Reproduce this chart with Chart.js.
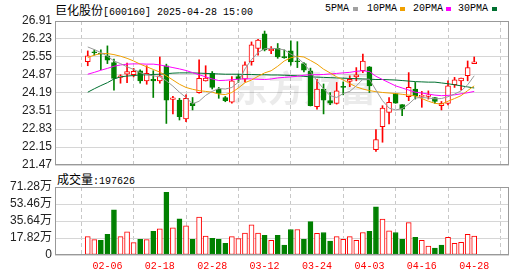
<!DOCTYPE html>
<html>
<head>
<meta charset="utf-8">
<script src="https://cdn.jsdelivr.net/npm/chart.js@4"></script>
<style>
  body { margin: 0; background: #fff; width: 530px; height: 276px; overflow: hidden; position: relative; }
  canvas { position: absolute; left: 0; }
  #main { top: 0; }
  #vol { top: 168px; }
  .txt { position: absolute; white-space: nowrap; color: #000; font: 10px "Liberation Mono", monospace; line-height: 14px; }
  .cjk { font: 12px "Noto Sans CJK SC", sans-serif; }
  .sw { position: absolute; width: 5px; height: 4px; top: 7px; }
</style>
</head>
<body>
<div class="txt" style="left:55px;top:1px"><span class="cjk">巨化股份</span>[600160] 2025-04-28 15:00</div>
<div class="txt" style="left:325px;top:2px">5PMA</div><div class="sw" style="left:353px;background:#a0a0a0"></div>
<div class="txt" style="left:367px;top:2px">10PMA</div><div class="sw" style="left:400px;background:#f0a000"></div>
<div class="txt" style="left:413px;top:2px">20PMA</div><div class="sw" style="left:446px;background:#ff00ff"></div>
<div class="txt" style="left:458px;top:2px">30PMA</div><div class="sw" style="left:492px;background:#007030"></div>
<div class="txt" style="left:57px;top:170px"><span class="cjk">成交量</span>:197626</div>
<canvas id="main" width="530" height="180"></canvas>
<canvas id="vol" width="530" height="108"></canvas>
<script>
// 交易日
const dates = ['01-24','01-27','02-05','02-06','02-07','02-10','02-11','02-12','02-13','02-14',
  '02-17','02-18','02-19','02-20','02-21','02-24','02-25','02-26','02-27','02-28',
  '03-03','03-04','03-05','03-06','03-07','03-10','03-11','03-12','03-13','03-14',
  '03-17','03-18','03-19','03-20','03-21','03-24','03-25','03-26','03-27','03-28',
  '03-31','04-01','04-02','04-03','04-07','04-08','04-09','04-10','04-11','04-14',
  '04-15','04-16','04-17','04-18','04-21','04-22','04-23','04-24','04-25','04-28'];

// K线 开/高/低/收
const openP = [25.37,25.74,25.70,25.59,25.34,24.78,24.90,24.88,25.03,24.65,
  24.71,24.65,25.22,23.95,23.92,23.21,23.81,24.20,24.65,24.93,
  24.34,24.02,23.84,24.81,24.71,25.37,25.87,26.43,25.79,25.88,
  25.57,25.78,25.40,25.30,25.03,23.67,24.34,23.90,23.80,24.44,
  24.63,24.80,25.03,25.18,22.05,22.92,23.46,24.17,23.75,24.05,
  24.34,24.06,24.06,24.02,23.71,23.80,24.50,24.65,24.84,25.30];
const highP = [25.78,25.82,25.82,25.97,25.47,24.88,25.32,25.12,25.07,25.22,
  25.03,25.55,25.28,24.06,23.99,24.12,24.02,25.44,25.22,25.00,
  24.40,24.06,24.81,24.90,25.37,26.12,26.22,26.53,25.94,26.06,
  25.82,26.16,26.13,25.34,25.13,24.71,24.53,24.21,24.59,24.61,
  24.84,25.15,25.66,25.19,22.81,23.71,24.02,24.18,23.75,24.96,
  24.59,24.25,24.27,24.02,23.87,24.65,24.78,24.75,25.40,25.55];
const lowP = [25.22,25.62,25.07,25.30,24.30,24.56,24.58,24.80,24.56,24.52,
  24.02,24.56,23.04,23.40,23.17,23.11,23.55,24.18,24.64,24.34,
  23.99,23.86,23.81,24.59,24.61,25.24,25.62,25.78,25.68,25.50,
  25.50,25.24,25.15,24.99,23.70,23.58,23.40,23.75,23.77,24.12,
  24.43,24.65,24.96,24.21,21.98,22.33,23.02,23.80,23.33,23.90,
  23.96,23.65,23.96,23.80,23.55,23.74,24.40,24.30,24.65,25.30];
const closeP = [25.59,25.71,25.66,25.43,24.74,24.84,25.00,25.01,24.65,24.93,
  24.65,24.84,23.92,24.01,23.30,23.99,23.71,24.74,24.75,24.40,
  24.17,23.90,24.65,24.71,25.25,26.01,26.19,25.82,25.84,25.55,
  25.52,25.36,25.37,25.05,23.71,24.34,23.92,23.81,24.27,24.40,
  24.71,24.88,25.40,24.46,22.43,23.62,23.84,23.81,23.58,24.40,
  24.09,24.10,24.12,23.87,23.80,24.46,24.69,24.75,25.15,25.37];

// 均线
const ma5 = [25.93,25.83,25.72,25.58,25.40,25.30,25.18,25.08,24.96,24.88,
  24.84,24.80,24.65,24.45,24.22,24.02,23.78,23.88,24.10,24.25,
  24.36,24.34,24.40,24.60,25.10,25.45,25.72,25.86,25.88,25.86,
  25.82,25.66,25.53,25.30,25.00,24.65,24.35,24.09,24.02,24.17,
  24.25,24.46,24.71,24.71,24.30,23.90,23.62,23.55,23.60,23.77,
  24.00,24.02,24.00,23.97,23.98,24.05,24.15,24.27,24.50,24.84];
const ma10 = [25.53,25.62,25.68,25.68,25.64,25.58,25.50,25.40,25.28,25.18,
  25.08,24.98,24.84,24.68,24.52,24.40,24.33,24.28,24.25,24.22,
  24.15,24.13,24.21,24.38,24.58,24.68,24.82,24.95,25.03,25.20,
  25.40,25.52,25.58,25.55,25.42,25.28,25.09,24.95,24.80,24.68,
  24.55,24.42,24.34,24.28,24.24,24.21,24.19,24.17,24.14,24.11,
  24.08,23.98,23.88,23.80,23.77,23.88,23.98,24.09,24.28,24.46];
const ma20 = [24.90,24.97,25.05,25.12,25.20,25.25,25.28,25.29,25.29,25.28,
  25.28,25.25,25.20,25.15,25.10,25.04,24.96,24.88,24.80,24.72,
  24.66,24.67,24.69,24.71,24.73,24.72,24.71,24.70,24.72,24.76,
  24.78,24.80,24.82,24.86,24.88,24.88,24.89,24.91,24.93,24.95,
  24.97,25.01,25.03,25.00,24.82,24.70,24.58,24.46,24.38,24.30,
  24.22,24.19,24.15,24.11,24.09,24.10,24.12,24.16,24.20,24.25];
const ma30 = [24.22,24.35,24.47,24.58,24.72,24.80,24.83,24.85,24.87,24.88,
  24.89,24.90,24.92,24.94,24.95,24.95,24.95,24.94,24.93,24.92,
  24.91,24.90,24.90,24.90,24.89,24.89,24.88,24.88,24.87,24.87,
  24.86,24.85,24.84,24.82,24.80,24.79,24.78,24.77,24.76,24.75,
  24.74,24.73,24.72,24.71,24.70,24.70,24.69,24.68,24.66,24.64,
  24.62,24.61,24.60,24.60,24.57,24.54,24.50,24.46,24.42,24.38];

// 成交量(手)
const volume = [192000,161000,154000,216000,473000,192000,243000,130000,164000,161000,
  247000,274000,658000,284000,380000,305000,164000,398000,199000,175000,
  164000,123000,192000,171000,230000,315000,230000,206000,154000,206000,
  103000,267000,267000,164000,350000,226000,236000,147000,192000,164000,
  192000,154000,236000,247000,504000,377000,254000,236000,164000,339000,
  185000,154000,93000,72000,103000,185000,123000,134000,216000,197626];

const priceTicks = [21.47,22.15,22.83,23.51,24.19,24.87,25.55,26.23,26.91];
const volTicks = [0,178200,356400,534600,712800];
const labelIdx = [3,11,19,27,35,43,51,59];

const RED = '#ff0000';
const GREEN = '#008000';
const xMin = -0.67, xMax = 59.98;

const candleUp = closeP.map((c, i) => c >= openP[i]);
const volUp = closeP.map((c, i) => i === 0 || c >= closeP[i - 1]);

const frame = {
  id: 'frame',
  afterDraw(chart) {
    const { ctx, chartArea: a } = chart;
    ctx.save();
    ctx.strokeStyle = '#999';
    ctx.lineWidth = 1;
    ctx.strokeRect(a.left + 0.5, a.top + 0.5, a.right - a.left - 1, a.bottom - a.top - 1);
    ctx.restore();
  }
};

const watermark = {
  id: 'watermark',
  beforeDatasetsDraw(chart) {
    const ctx = chart.ctx;
    ctx.save();
    ctx.fillStyle = 'rgba(0,0,0,0.08)';
    ctx.font = 'bold 36px "Noto Sans CJK SC"';
    ctx.textBaseline = 'alphabetic';
    ctx.fillText('东方财富', 232, 102);
    ctx.restore();
  }
};

function xAxis(showLabels) {
  return {
    type: 'linear', min: xMin, max: xMax,
    afterBuildTicks: s => { s.ticks = labelIdx.map(v => ({ value: v })); },
    afterFit: s => { s.height = showLabels ? 21 : 0; },
    grid: { color: '#c8c8c8', drawTicks: false },
    border: { display: false, dash: [4, 3] },
    ticks: {
      display: showLabels, autoSkip: false, maxRotation: 0, padding: 5,
      color: RED, font: { family: 'Liberation Mono', size: 10 },
      callback: v => dates[v]
    }
  };
}

function yAxis(min, max, tickList, fmt) {
  return {
    min: min, max: max,
    afterBuildTicks: s => { s.ticks = tickList.map(v => ({ value: v })); },
    afterFit: s => { s.width = 55; },
    grid: { color: '#d6d6d6', drawTicks: false },
    border: { display: false },
    ticks: {
      autoSkip: false, padding: 3, color: '#222',
      font: { family: '"Liberation Sans", "Noto Sans CJK SC"', size: 12 },
      callback: fmt
    }
  };
}

const pts = arr => arr.map((v, i) => ({ x: i, y: v }));
const maLine = (arr, color) => ({
  type: 'line', data: pts(arr), borderColor: color, borderWidth: 1,
  pointRadius: 0, tension: 0, order: 1
});

new Chart(document.getElementById('main'), {
  type: 'bar',
  data: {
    datasets: [
      {
        data: dates.map((d, i) => ({ x: i, y: [lowP[i], highP[i]] })),
        backgroundColor: candleUp.map(u => u ? RED : GREEN),
        barThickness: 1, grouped: false, order: 3, borderWidth: 0
      },
      {
        data: dates.map((d, i) => ({ x: i, y: [openP[i], closeP[i]] })),
        backgroundColor: candleUp.map(u => u ? '#fff' : GREEN),
        borderColor: candleUp.map(u => u ? RED : GREEN),
        borderWidth: 1, borderSkipped: false, minBarLength: 1,
        barThickness: 5, grouped: false, order: 2
      },
      maLine(ma5, '#999999'),
      maLine(ma10, '#f0a000'),
      maLine(ma20, '#ff00ff'),
      maLine(ma30, '#007030')
    ]
  },
  options: {
    responsive: false, animation: false, events: [],
    layout: { padding: { top: 21, right: 21, bottom: 15, left: 0 } },
    plugins: { legend: { display: false }, tooltip: { enabled: false } },
    scales: {
      x: xAxis(false),
      y: yAxis(21.47, 26.91, priceTicks, v => v.toFixed(2))
    }
  },
  plugins: [watermark, frame]
});

new Chart(document.getElementById('vol'), {
  type: 'bar',
  data: {
    datasets: [{
      data: volume.map((v, i) => ({ x: i, y: v })),
      backgroundColor: volUp.map(u => u ? '#fff' : GREEN),
      borderColor: volUp.map(u => u ? RED : GREEN),
      borderWidth: 1, borderSkipped: false, barThickness: 5
    }]
  },
  options: {
    responsive: false, animation: false, events: [],
    layout: { padding: { top: 19, right: 21, bottom: 0, left: 0 } },
    plugins: { legend: { display: false }, tooltip: { enabled: false } },
    scales: {
      x: xAxis(true),
      y: yAxis(0, 712800, volTicks, v => v === 0 ? '0' : (v / 10000).toFixed(2) + '万')
    }
  },
  plugins: [frame]
});
</script>
</body>
</html>
